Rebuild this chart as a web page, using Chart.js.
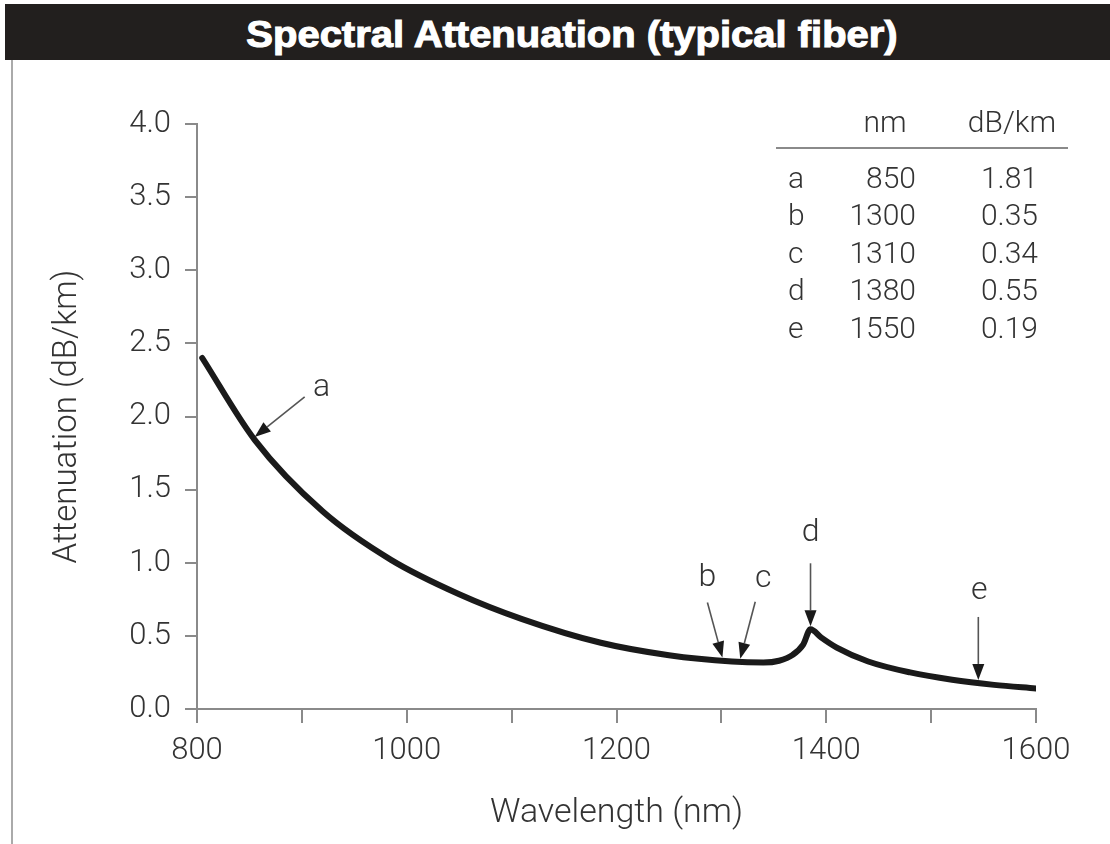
<!DOCTYPE html>
<html>
<head>
<meta charset="utf-8">
<script src="https://cdn.jsdelivr.net/npm/chart.js@4.4.1/dist/chart.umd.min.js"></script>
<style>
  html, body { margin: 0; padding: 0; background: #fff; }
  body { width: 1110px; height: 844px; position: relative; overflow: hidden; }
  #titleBar {
    position: absolute; left: 5px; top: 4px; right: 0; height: 56px;
    background: #221f1e;
  }
  #titleBar span {
    position: absolute; left: 567px; top: 30px;
    transform: translate(-50%, -50%) scaleX(1.08);
    color: #fff; white-space: nowrap; line-height: 1;
    font-family: "Liberation Sans", Arial, sans-serif; font-weight: bold; font-size: 37px;
    -webkit-text-stroke: 1.1px #fff;
  }
  #leftRule { position: absolute; left: 11px; top: 60px; width: 2px; height: 784px; background: #aaa; }
  canvas { position: absolute; left: 0; top: 0; }
</style>
</head>
<body>
<div id="titleBar"><span>Spectral Attenuation (typical fiber)</span></div>
<div id="leftRule"></div>
<canvas id="chart" width="1110" height="844"></canvas>
<script>
// curve
const wavelengths = [805, 855, 920, 985, 1050, 1110, 1185, 1250, 1310, 1340, 1355, 1368, 1378, 1385, 1395, 1410, 1440, 1480, 1520, 1560, 1600];
const attenuation = [2.40, 1.84, 1.35, 1.02, 0.785, 0.615, 0.453, 0.368, 0.325, 0.318, 0.33, 0.37, 0.44, 0.545, 0.49, 0.42, 0.325, 0.25, 0.20, 0.165, 0.14];

// table in the corner
const tableLetters = ['a', 'b', 'c', 'd', 'e'];
const tableNm = [850, 1300, 1310, 1380, 1550];
const tableDb = ['1.81', '0.35', '0.34', '0.55', '0.19'];

// arrows on the curve
const arrowLetters = ['a', 'b', 'c', 'd', 'e'];
const arrowNm = [855, 1301, 1318, 1385, 1545];

const FONT = 'Roboto, "Liberation Sans", sans-serif';
const AXIS = '#8a8a8a';
const TEXT = '#333';

// tail/label offsets from the arrow tip, in px
const arrowStyle = {
  a: {tail: [50, -40], label: [67, -49]},
  b: {tail: [-15, -55], label: [-15, -80]},
  c: {tail: [15, -57], label: [23, -80]},
  d: {tail: [0, -63], label: [0, -93]},
  e: {tail: [0, -63], label: [1, -89]}
};

function curveAt(nm) {
  for (let i = 1; i < wavelengths.length; i++) {
    if (nm <= wavelengths[i]) {
      const t = (nm - wavelengths[i - 1]) / (wavelengths[i] - wavelengths[i - 1]);
      return attenuation[i - 1] + t * (attenuation[i] - attenuation[i - 1]);
    }
  }
  return attenuation[attenuation.length - 1];
}

const extras = {
  id: 'extras',
  afterDraw(chart) {
    const ctx = chart.ctx;
    const xs = chart.scales.x, ys = chart.scales.y;
    ctx.save();

    // table
    ctx.fillStyle = TEXT;
    ctx.font = '300 30px ' + FONT;
    ctx.textBaseline = 'middle';
    ctx.textAlign = 'center';
    ctx.fillText('nm', 885, 124);
    ctx.fillText('dB/km', 1012, 124);
    ctx.strokeStyle = AXIS;
    ctx.lineWidth = 2;
    ctx.beginPath();
    ctx.moveTo(776, 148);
    ctx.lineTo(1068, 148);
    ctx.stroke();
    tableLetters.forEach((l, i) => {
      const y = 180 + i * 37.6;
      ctx.textAlign = 'left';
      ctx.fillText(l, 788, y);
      ctx.textAlign = 'right';
      ctx.fillText(String(tableNm[i]), 916, y);
      ctx.fillText(tableDb[i], 1038, y);
    });

    // arrows
    arrowLetters.forEach((l, i) => {
      const st = arrowStyle[l];
      const tx = xs.getPixelForValue(arrowNm[i]);
      const ty = ys.getPixelForValue(curveAt(arrowNm[i])) - 3;
      const sx = tx + st.tail[0], sy = ty + st.tail[1];
      const ang = Math.atan2(ty - sy, tx - sx);
      const hl = 16, hw = 6;
      const bx = tx - hl * Math.cos(ang), by = ty - hl * Math.sin(ang);
      ctx.strokeStyle = '#555';
      ctx.lineWidth = 1.6;
      ctx.beginPath();
      ctx.moveTo(sx, sy);
      ctx.lineTo(bx, by);
      ctx.stroke();
      ctx.fillStyle = '#1a1a1a';
      ctx.beginPath();
      ctx.moveTo(tx, ty);
      ctx.lineTo(bx + hw * Math.sin(ang), by - hw * Math.cos(ang));
      ctx.lineTo(bx - hw * Math.sin(ang), by + hw * Math.cos(ang));
      ctx.closePath();
      ctx.fill();
      ctx.fillStyle = TEXT;
      ctx.font = '300 32px ' + FONT;
      ctx.textAlign = 'center';
      ctx.textBaseline = 'middle';
      ctx.fillText(l, tx + st.label[0], ty + st.label[1]);
    });
    ctx.restore();
  }
};

new Chart(document.getElementById('chart'), {
  type: 'line',
  data: {
    datasets: [{
      data: wavelengths.map((w, i) => ({x: w, y: attenuation[i]})),
      borderColor: '#1a1a1a',
      borderWidth: 6,
      borderCapStyle: 'round',
      pointRadius: 0,
      cubicInterpolationMode: 'monotone',
      fill: false
    }]
  },
  options: {
    responsive: false,
    animation: false,
    layout: {padding: {left: 44, top: 124, right: 74, bottom: 6}},
    plugins: {legend: {display: false}, tooltip: {enabled: false}},
    scales: {
      x: {
        type: 'linear', min: 800, max: 1600,
        afterFit: s => { s.height = 129; },
        border: {color: AXIS, width: 2},
        grid: {drawOnChartArea: false, color: AXIS, lineWidth: 2, tickLength: 14},
        ticks: {
          stepSize: 100, padding: 10, color: TEXT, maxRotation: 0, autoSkip: false,
          font: {family: FONT, size: 31, weight: '300'},
          callback: v => (v % 200 === 0 ? String(v) : '')
        },
        title: {display: true, text: 'Wavelength (nm)', color: TEXT, font: {family: FONT, size: 34, weight: '300'}}
      },
      y: {
        min: 0, max: 4,
        afterFit: s => { s.width = 153; },
        border: {color: AXIS, width: 2},
        grid: {drawOnChartArea: false, color: AXIS, lineWidth: 2, tickLength: 12},
        ticks: {
          stepSize: 0.5, padding: 14, color: TEXT,
          font: {family: FONT, size: 31, weight: '300'},
          callback: v => v.toFixed(1)
        },
        title: {display: true, text: 'Attenuation (dB/km)', color: TEXT, font: {family: FONT, size: 33, weight: '300'}}
      }
    }
  },
  plugins: [extras]
});
</script>
</body>
</html>
